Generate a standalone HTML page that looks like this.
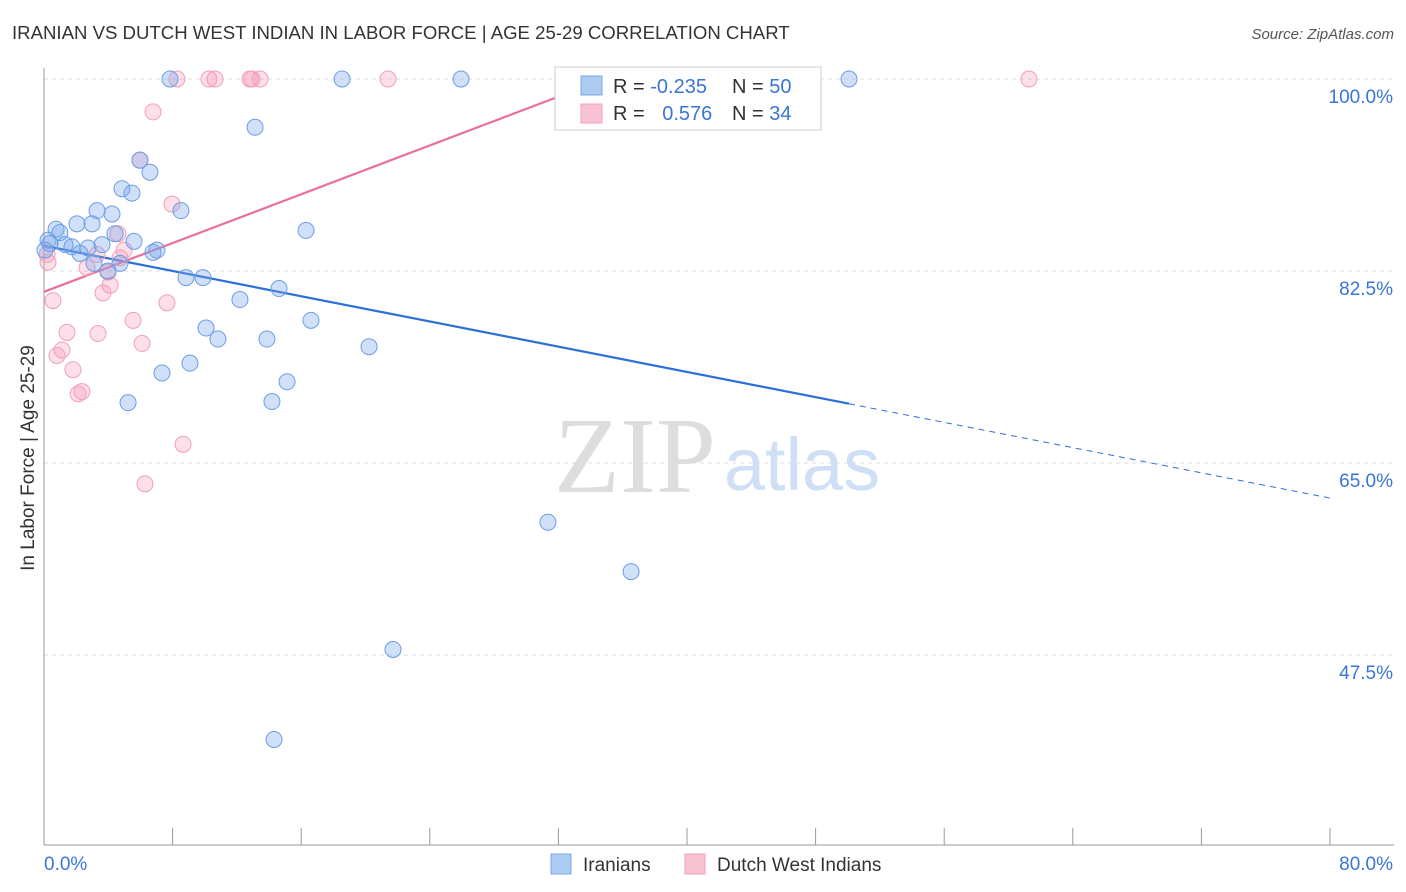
<!DOCTYPE html>
<html><head><meta charset="utf-8"><style>
body{margin:0;background:#fff;font-family:"Liberation Sans",sans-serif;}
#c{position:absolute;left:0;top:0;}
</style></head><body>
<svg id="c" width="1406" height="892">
<text x="12" y="39" font-size="18.6" fill="#333">IRANIAN VS DUTCH WEST INDIAN IN LABOR FORCE | AGE 25-29 CORRELATION CHART</text>
<text x="1394" y="39" font-size="15" fill="#555" font-style="italic" text-anchor="end">Source: ZipAtlas.com</text>
<text x="635" y="492" font-size="108" fill="#ddd" font-family="Liberation Serif,serif" text-anchor="middle">ZIP</text>
<text x="802" y="490" font-size="74" fill="#cfdff5" text-anchor="middle">atlas</text>
<text transform="translate(34,458) rotate(-90)" font-size="19" fill="#333" text-anchor="middle">In Labor Force | Age 25-29</text>
<g id="grid"></g><g id="axes"></g><g id="trends"></g><g id="pts"></g>
<g>
<rect x="555" y="67" width="266" height="63" fill="#fff" stroke="#ccc"/>
<rect x="581" y="76" width="21" height="19" fill="#aecbf2" stroke="#7aa7e8"/>
<rect x="581" y="104" width="21" height="19" fill="#f8c4d3" stroke="#f0a0b8"/>
<text x="613" y="93" font-size="20" fill="#333">R = <tspan fill="#3a75d8">-0.235</tspan></text>
<text x="732" y="93" font-size="20" fill="#333">N = <tspan fill="#3a75d8">50</tspan></text>
<text x="613" y="120" font-size="20" fill="#333">R = <tspan fill="#3a75d8" dx="12">0.576</tspan></text>
<text x="732" y="120" font-size="20" fill="#333">N = <tspan fill="#3a75d8">34</tspan></text>
</g>
<g>
<rect x="551" y="854" width="20" height="20" fill="#aecbf2" stroke="#7aa7e8"/>
<text x="583" y="871" font-size="19" fill="#333">Iranians</text>
<rect x="685" y="854" width="20" height="20" fill="#f8c4d3" stroke="#f0a0b8"/>
<text x="717" y="871" font-size="19" fill="#333">Dutch West Indians</text>
</g>
</svg>
<script>
const yTicks=[100,82.5,65,47.5];
const yTickLabels=["100.0%","82.5%","65.0%","47.5%"];
const xTicks=[0,8,16,24,32,40,48,56,64,72,80];
const blueX=[7.84,18.54,25.94,50.08,13.13,5.97,6.59,4.85,5.47,3.30,4.23,8.52,2.05,2.99,0.75,0.99,0.25,4.42,5.60,16.30,1.31,1.74,3.61,2.74,2.24,7.03,6.78,3.11,4.73,3.98,8.83,9.89,14.62,12.19,16.61,10.08,10.82,13.87,20.22,9.08,7.34,15.12,5.23,14.18,31.35,36.52,21.71,14.31,0.37,0.06];
const blueY=[100,100,100,100,95.6,92.6,91.5,90.0,89.6,88.0,87.7,88.0,86.8,86.8,86.3,86.0,85.3,85.9,85.2,86.2,84.9,84.7,84.9,84.6,84.1,84.4,84.2,83.2,83.2,82.5,81.9,81.9,80.9,79.9,78.0,77.3,76.3,76.3,75.6,74.1,73.2,72.4,70.5,70.6,59.6,55.1,48.0,39.8,85.0,84.4];
const pinkX=[8.27,10.26,10.64,12.81,12.94,13.44,21.40,61.27,6.78,5.97,7.96,4.60,4.98,3.30,2.68,3.98,4.11,3.67,0.25,0.56,7.65,5.54,1.43,3.36,6.10,1.12,0.81,1.80,2.36,2.12,8.65,6.28,0.19,4.73];
const pinkY=[100,100,100,100,100,100,100,100,97.0,92.6,88.6,85.9,84.4,84.0,82.8,82.4,81.2,80.5,83.3,79.8,79.6,78.0,76.9,76.8,75.9,75.3,74.8,73.5,71.5,71.3,66.7,63.1,84.0,83.7];
const blueTrend=[84.8,-0.2875];
const pinkTrend=[80.6,0.556];
const NS="http://www.w3.org/2000/svg";
const X=v=>44+v*16.075, Y=v=>79+(100-v)*10.971;
function mk(tag,a,p){const e=document.createElementNS(NS,tag);for(const k in a)e.setAttribute(k,a[k]);document.getElementById(p).appendChild(e);return e;}
yTicks.forEach((t,i)=>{
 const l=mk('line',{x1:44,x2:1394,y1:Y(t),y2:Y(t),stroke:'#ddd','stroke-dasharray':'4,4'},'grid');
 
 
 const tx=mk('text',{x:1393,y:Y(t)+24,'font-size':19,fill:'#3a75d8','text-anchor':'end'},'axes');
 tx.textContent=yTickLabels[i];
 
 
});
mk('line',{x1:44,x2:44,y1:68,y2:845,stroke:'#999'},'axes');
mk('line',{x1:44,x2:1394,y1:845,y2:845,stroke:'#999'},'axes');
xTicks.forEach(t=>{const l=mk('line',{x1:X(t),x2:X(t),y1:828,y2:845,stroke:'#999'},'axes');
 
 });
let a=mk('text',{x:44,y:870,'font-size':19,fill:'#3a75d8'},'axes');a.textContent='0.0%';


a=mk('text',{x:1393,y:870,'font-size':19,fill:'#3a75d8','text-anchor':'end'},'axes');a.textContent='80.0%';


const bx=Math.max(...blueX);
let l=mk('line',{x1:X(0),y1:Y(blueTrend[0]),x2:X(bx),y2:Y(blueTrend[0]+blueTrend[1]*bx),stroke:'#2c6fd6','stroke-width':2.2},'trends');


l=mk('line',{x1:X(bx),y1:Y(blueTrend[0]+blueTrend[1]*bx),x2:X(80),y2:Y(blueTrend[0]+blueTrend[1]*80),stroke:'#2c6fd6','stroke-width':1,'stroke-dasharray':'6,5'},'trends');


const pe=(100.5-pinkTrend[0])/pinkTrend[1];
l=mk('line',{x1:X(0),y1:Y(pinkTrend[0]),x2:X(pe),y2:Y(pinkTrend[0]+pinkTrend[1]*pe),stroke:'#e8709a','stroke-width':2.2},'trends');


pinkX.forEach((x,i)=>{const c=mk('circle',{cx:X(x),cy:Y(pinkY[i]),r:8,fill:'rgba(244,150,180,0.3)',stroke:'#f0a0b8','stroke-width':1},'pts');
 
 });
blueX.forEach((x,i)=>{const c=mk('circle',{cx:X(x),cy:Y(blueY[i]),r:8,fill:'rgba(120,165,235,0.35)',stroke:'#6c9de6','stroke-width':1},'pts');
 
 });
</script>
</body></html>
